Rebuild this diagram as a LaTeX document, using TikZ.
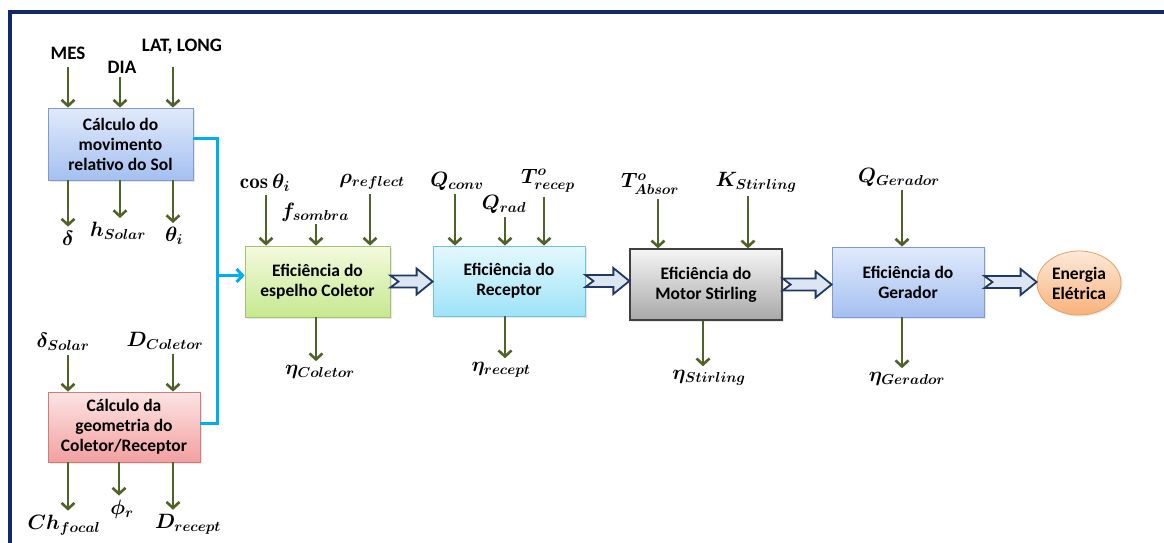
\documentclass[tikz,border=0pt]{standalone}
\usepackage{fontspec}
\setsansfont{Carlito}
\usepackage{amsmath}
\usetikzlibrary{arrows.meta,shapes.geometric,calc,shadows}

\definecolor{framenavy}{HTML}{0F2A64}
\definecolor{feedolive}{HTML}{4F6228}
\definecolor{wirecyan}{HTML}{00AEEF}
\definecolor{flowfill}{HTML}{DCE6F2}
\definecolor{flowedge}{HTML}{1F3864}

\tikzset{
  box/.style={draw, line width=0.8pt, align=center, inner sep=2pt,
    font=\sffamily\bfseries\fontsize{17.5}{20}\selectfont,
    drop shadow={opacity=0.18, shadow xshift=1.5pt, shadow yshift=-1.5pt}},
  solfill/.style={top color={rgb,255:red,225;green,234;blue,251}, bottom color={rgb,255:red,164;green,192;blue,241},
    draw={rgb,255:red,125;green,155;blue,205}},
  geofill/.style={top color={rgb,255:red,253;green,228;blue,228}, bottom color={rgb,255:red,242;green,160;blue,160},
    draw={rgb,255:red,215;green,120;blue,120}},
  colfill/.style={top color={rgb,255:red,244;green,250;blue,223}, bottom color={rgb,255:red,198;green,232;blue,143},
    draw={rgb,255:red,165;green,195;blue,110}},
  recfill/.style={top color={rgb,255:red,228;green,248;blue,253}, bottom color={rgb,255:red,158;green,227;blue,248},
    draw={rgb,255:red,110;green,195;blue,225}},
  motfill/.style={top color={rgb,255:red,245;green,245;blue,245}, bottom color={rgb,255:red,168;green,168;blue,168},
    draw={rgb,255:red,64;green,64;blue,64}, line width=1.3pt},
  enefill/.style={top color={rgb,255:red,253;green,233;blue,217}, bottom color={rgb,255:red,248;green,178;blue,122},
    draw={rgb,255:red,232;green,160;blue,96}},
  feed/.style={draw=feedolive, line width=2.6pt, -{Straight Barb[length=6pt,width=13pt]}},
  wire/.style={draw=wirecyan, line width=3pt},
  hollow/.style={fill=flowfill, draw=flowedge, line width=1.8pt, line join=miter},
  var/.style={inner sep=0pt, font=\fontsize{21}{21}\selectfont\boldmath},
  tag/.style={inner sep=0pt, font=\sffamily\bfseries\fontsize{19}{19}\selectfont},
}

% seta larga entre dois blocos
\newcommand\flow[2]{%
  \draw[hollow] let \p1=(#1.east), \p2=(#2.west) in
    (\x1,\y1+6pt) -- (\x2-16pt,\y1+6pt) -- (\x2-16pt,\y1+13pt) -- (\x2,\y1)
    -- (\x2-16pt,\y1-13pt) -- (\x2-16pt,\y1-6pt) -- (\x1,\y1-6pt) -- (\x1+8pt,\y1) -- cycle;}

\begin{document}
\begin{tikzpicture}[x=1pt,y=-1pt]
\useasboundingbox (0,0) rectangle (1164,542);
\draw[framenavy, line width=4pt] (1166,12) -- (10,12) -- (10,544);

% blocos
\node[box, solfill, minimum width=145pt, minimum height=72pt] (sol) at (120.5,144) {Cálculo do\\movimento\\relativo do Sol};
\node[box, geofill, minimum width=152pt, minimum height=70pt] (geo) at (124,427) {Cálculo da\\geometria do\\Coletor/Receptor};
\node[box, colfill, minimum width=145pt, minimum height=71pt] (col) at (317.5,281.5) {Eficiência do\\espelho Coletor};
\node[box, recfill, minimum width=152pt, minimum height=70pt] (rec) at (509,281) {Eficiência do\\Receptor};
\node[box, motfill, minimum width=152pt, minimum height=71pt] (mot) at (706,284.5) {Eficiência do\\Motor Stirling};
\node[box, solfill, minimum width=152pt, minimum height=70pt] (ger) at (908,282) {Eficiência do\\Gerador};
\node[box, ellipse, enefill, minimum width=84pt, minimum height=64pt, inner sep=0pt] (ene) at (1079,283) {Energia\\Elétrica};

% entradas
\node[tag] (mes) at (68,53) {MES};
\node[tag] (dia) at (122,67) {DIA};
\node[tag] (lat) at (182,47) {LAT, LONG};
\node[var] (cth) at (265,183) {$\cos\theta_i$};
\node[var] (fsom) at (315,212) {$f_{sombra}$};
\node[var] (rho) at (372,182) {$\rho_{reflect}$};
\node[var] (qcv) at (457,181) {$Q_{conv}$};
\node[var] (qrd) at (504,204) {$Q_{rad}$};
\node[var] (trc) at (548,181) {$T^{o}_{recep}$};
\node[var] (tab) at (650,184) {$T^{o}_{Absor}$};
\node[var] (kst) at (756,182) {$K_{Stirling}$};
\node[var] (qgr) at (899,177) {$Q_{Gerador}$};
\node[var] (dsol) at (63,342) {$\delta_{Solar}$};
\node[var] (dcol) at (165,341) {$D_{Coletor}$};

% saidas
\node[var] (dlt) at (68,238) {$\delta$};
\node[var] (hsl) at (118,231) {$h_{Solar}$};
\node[var] (thi) at (174,236) {$\theta_i$};
\node[var] (chf) at (64,525) {$Ch_{focal}$};
\node[var] (phr) at (122,509) {$\phi_r$};
\node[var] (drc) at (188,524) {$D_{recept}$};
\node[var] (etc) at (320,372) {$\eta_{Coletor}$};
\node[var] (etr) at (501,370) {$\eta_{recept}$};
\node[var] (ets) at (709,378) {$\eta_{Stirling}$};
\node[var] (etg) at (907,379) {$\eta_{Gerador}$};

\foreach \lab/\tgt/\dx/\gap in {mes/sol/0/7, dia/sol/-2/4, lat/sol/-9/12,
    cth/col/1/3, fsom/col/1/3, rho/col/-2/4, qcv/rec/-2/4, qrd/rec/1/4, trc/rec/-4/4,
    tab/mot/8/4, kst/mot/-8/4, qgr/ger/3/4, dsol/geo/5/4, dcol/geo/8/4}
  \draw[feed] ([xshift=\dx pt, yshift=-\gap pt]\lab.south) -- ([xshift=\dx pt]\lab.south |- \tgt.north);

\foreach \src/\lab/\dx in {sol/dlt/0, sol/hsl/2, sol/thi/-1, geo/chf/4, geo/phr/-3, geo/drc/-15,
    col/etc/-4, rec/etr/4, mot/ets/-6, ger/etg/-5}
  \draw[feed] ([xshift=\dx pt]\lab.north |- \src.south) -- ([xshift=\dx pt, yshift=4pt]\lab.north);

% barramento do sol e da geometria
\coordinate (bus) at (217,0);
\draw[wire] ([yshift=6pt]sol.east) -| ([yshift=4pt]geo.east -| bus) -- ([yshift=4pt]geo.east);
\draw[wire, -{Straight Barb[length=6pt,width=13pt]}] ([yshift=6pt]col.west -| bus) -- ([yshift=6pt]col.west);

% fluxo de energia
\flow{col}{rec}
\flow{rec}{mot}
\flow{mot}{ger}
\flow{ger}{ene}
\end{tikzpicture}
\end{document}
